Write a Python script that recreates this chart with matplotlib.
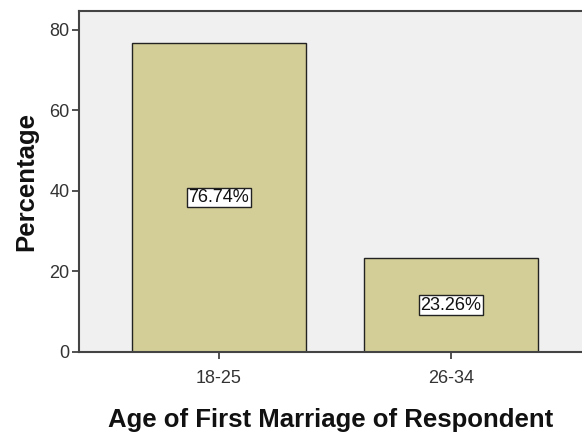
import numpy as np
import matplotlib.pyplot as plt

categories = ['18-25', '26-34']
percentages = [76.74, 23.26]
value_labels = ['76.74%', '23.26%']

plt.rcParams['font.family'] = ['Liberation Sans', 'DejaVu Sans']

fig = plt.figure(figsize=(5.82, 4.33), dpi=100)
ax = fig.add_axes([79 / 582, 81 / 433, 1 - 79 / 582, 341 / 433])
ax.set_facecolor('#f0f0f0')

x = np.arange(len(categories))
ax.bar(x, percentages, width=0.75, color='#d3ce97', edgecolor='#222222', linewidth=1.0, zorder=2)

for xi, v, lab in zip(x, percentages, value_labels):
    ax.text(xi, v / 2, lab, ha='center', va='center', fontsize=13, color='#111111', zorder=3,
            bbox=dict(boxstyle='square,pad=0.08', facecolor='white', edgecolor='#222222', linewidth=1.0))

ax.set_xlim(-0.603, 1.565)
ax.set_ylim(0, 84.7)
ax.set_xticks(x)
ax.set_xticklabels(categories)
ax.set_yticks([0, 20, 40, 60, 80])

for s in ['left', 'bottom', 'top']:
    ax.spines[s].set_color('#444444')
    ax.spines[s].set_linewidth(1.5)
ax.spines['right'].set_visible(False)
ax.tick_params(axis='both', length=5, width=1.2, color='#333333', labelsize=13, labelcolor='#333333', pad=2)
ax.tick_params(axis='x', pad=8)

ax.set_ylabel('Percentage', fontsize=18.5, fontweight='bold', color='#111111', labelpad=8)
ax.set_xlabel('Age of First Marriage of Respondent', fontsize=18.5, fontweight='bold', color='#111111', labelpad=15)

fig.savefig('out.png', dpi=100)
